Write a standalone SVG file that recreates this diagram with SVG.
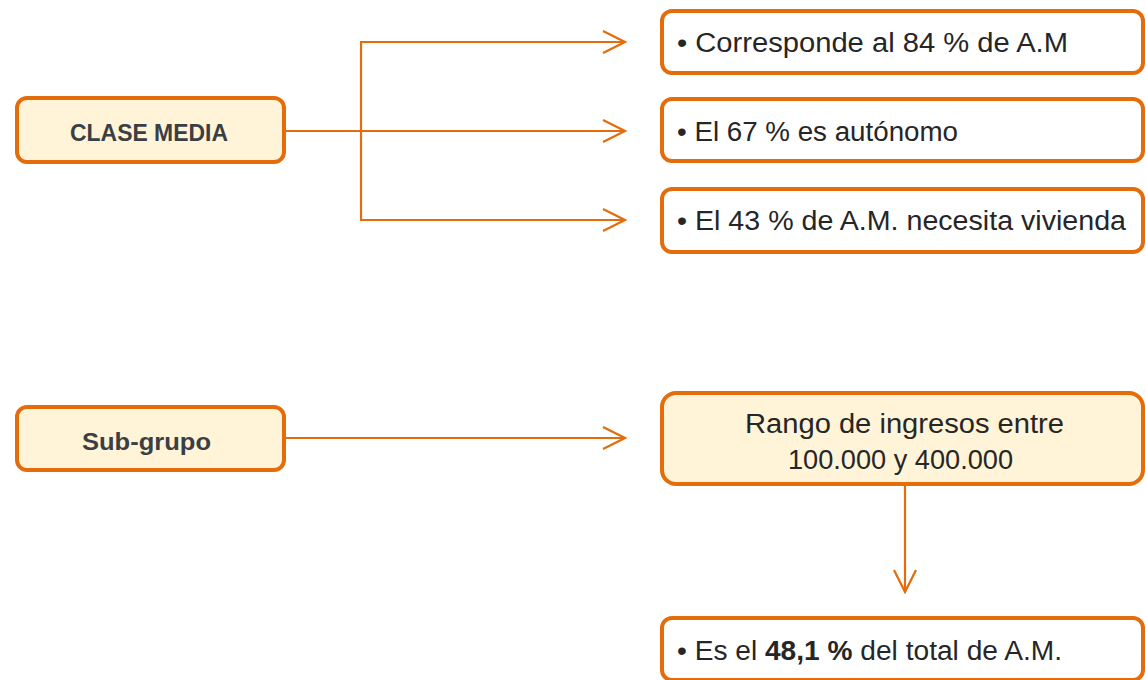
<svg xmlns="http://www.w3.org/2000/svg" width="1146" height="680" viewBox="0 0 1146 680">
<defs>
<marker id="chev" markerUnits="userSpaceOnUse" viewBox="-24 -13 26 26" markerWidth="26" markerHeight="26" refX="0" refY="0" orient="auto">
<path d="M-22,-11 L0,0 L-22,11" fill="none" stroke="#E46C0A" stroke-width="2.2"/>
</marker>
<style>
.box{fill:#FFFFFF;stroke:#E46C0A;stroke-width:4}
.ybox{fill:#FFF4D8;stroke:#E46C0A;stroke-width:4}
.con{fill:none;stroke:#E46C0A;stroke-width:2.2}
.t{font-family:"Liberation Sans",Arial,sans-serif;font-size:27px;fill:#262626}
.h{font-family:"Liberation Sans",Arial,sans-serif;font-size:23px;font-weight:bold;fill:#3B3F44}
</style>
</defs>
<g id="connectors">
<line class="con" x1="285" y1="131" x2="625" y2="131" marker-end="url(#chev)"/>
<path class="con" d="M361,131 V42 H625" marker-end="url(#chev)"/>
<path class="con" d="M361,131 V220 H625" marker-end="url(#chev)"/>
<line class="con" x1="285" y1="438" x2="625" y2="438" marker-end="url(#chev)"/>
<line class="con" x1="905" y1="485" x2="905" y2="592" marker-end="url(#chev)"/>
</g>
<g id="clase-media">
<rect class="ybox" x="17" y="98" width="267" height="64" rx="10"/>
<text class="h" x="70" y="141" textLength="158" lengthAdjust="spacingAndGlyphs">CLASE MEDIA</text>
</g>
<g id="corresponde">
<rect class="box" x="662" y="11" width="481" height="62" rx="10"/>
<text class="t" x="677" y="52" textLength="391" lengthAdjust="spacingAndGlyphs">• Corresponde  al 84 % de A.M</text>
</g>
<g id="autonomo">
<rect class="box" x="662" y="99" width="481" height="62" rx="10"/>
<text class="t" x="677" y="141" textLength="281" lengthAdjust="spacingAndGlyphs">• El 67 % es autónomo</text>
</g>
<g id="vivienda">
<rect class="box" x="662" y="189" width="481" height="63" rx="10"/>
<text class="t" x="677" y="230" textLength="449" lengthAdjust="spacingAndGlyphs">• El 43 % de A.M. necesita vivienda</text>
</g>
<g id="sub-grupo">
<rect class="ybox" x="17" y="407" width="267" height="63" rx="10"/>
<text class="h" x="82" y="450" textLength="129" lengthAdjust="spacingAndGlyphs">Sub-grupo</text>
</g>
<g id="rango">
<rect class="ybox" x="662" y="393" width="481" height="91" rx="14"/>
<text class="t" x="745" y="433" textLength="319" lengthAdjust="spacingAndGlyphs">Rango de ingresos entre</text>
<text class="t" x="788" y="469" textLength="225" lengthAdjust="spacingAndGlyphs">100.000 y 400.000</text>
</g>
<g id="total">
<rect class="box" x="662" y="618" width="481" height="62" rx="10"/>
<text class="t" x="677" y="660" textLength="385" lengthAdjust="spacingAndGlyphs">• Es el <tspan font-weight="bold">48,1 %</tspan> del total de A.M.</text>
</g>
</svg>
